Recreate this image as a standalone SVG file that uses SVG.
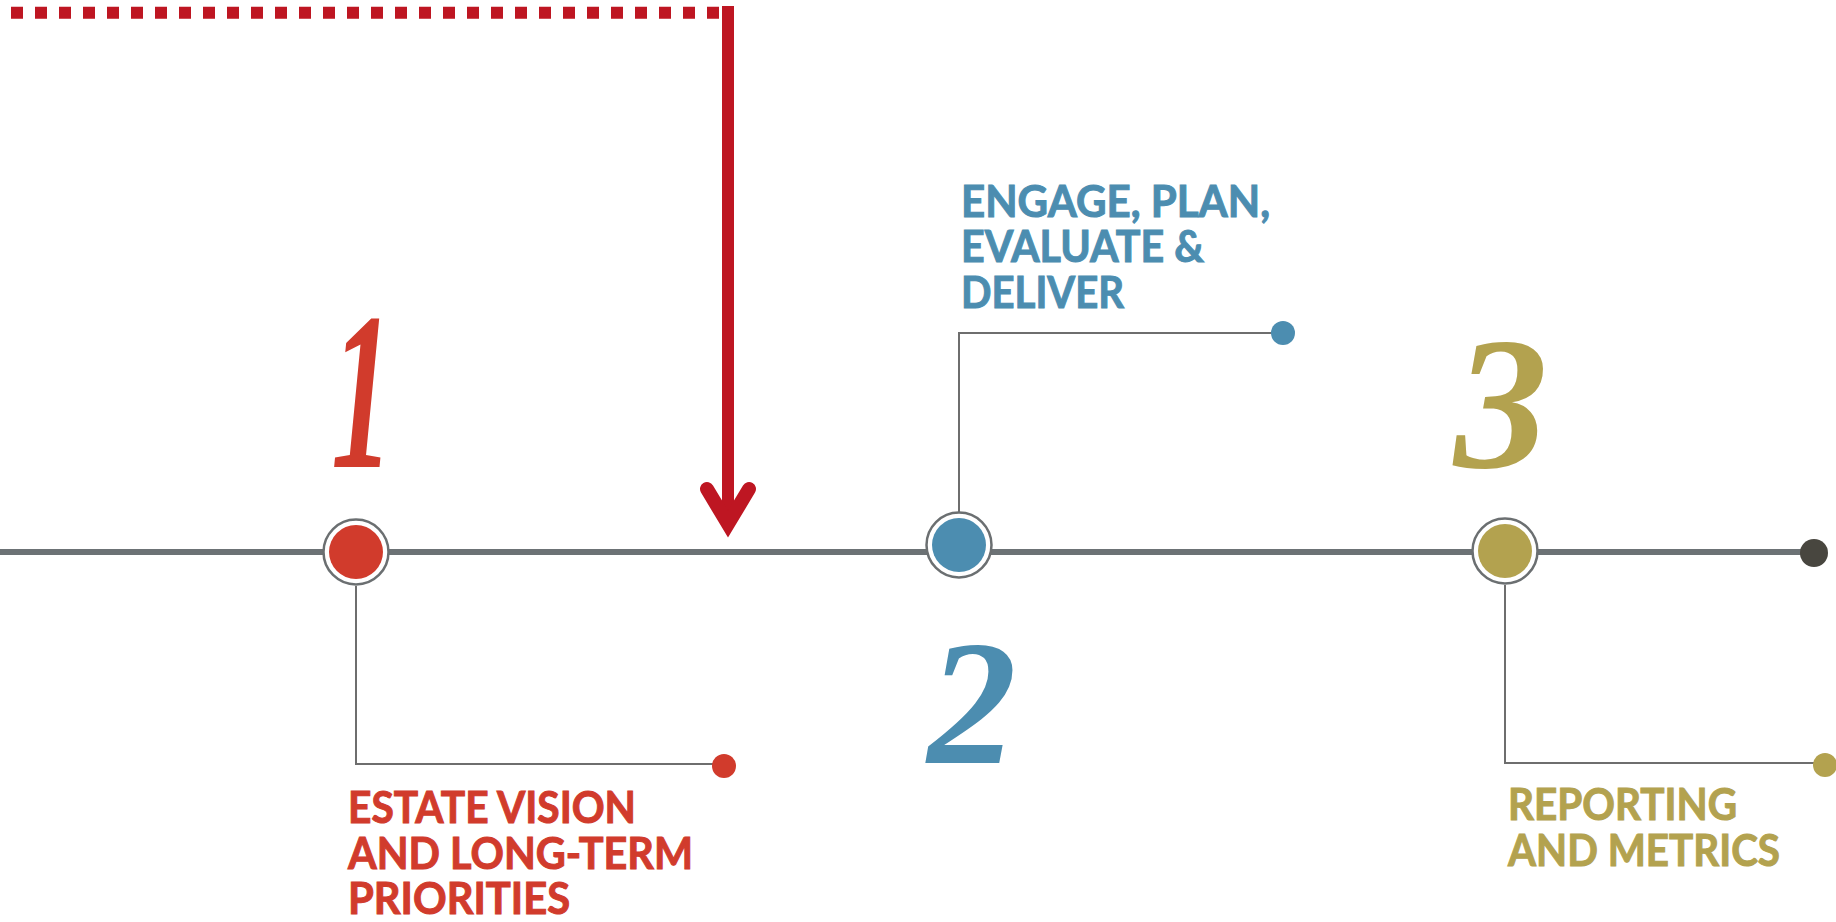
<svg xmlns="http://www.w3.org/2000/svg" width="1836" height="922" viewBox="0 0 1836 922">
<style>
.lbl{font-family:Lato,"Open Sans","Liberation Sans",sans-serif;font-weight:700;font-size:43px;stroke-width:1;}
.num{font-family:"Liberation Serif","DejaVu Serif",serif;font-weight:700;font-style:italic;text-anchor:middle;}
.conn{fill:none;stroke:#6e6e6e;stroke-width:2;}
.ring{fill:#ffffff;stroke:#6b6f71;stroke-width:2.5;}
.red{fill:#d13b2c;}
.blue{fill:#4c8db0;}
.olive{fill:#b3a24f;}
.lbl.red{stroke:#d13b2c;}
.lbl.blue{stroke:#4c8db0;}
.lbl.olive{stroke:#b3a24f;}
</style>
<rect width="1836" height="922" fill="#ffffff"/>
<g id="connectors">
  <line id="timeline" x1="0" y1="552" x2="1814" y2="552" stroke="#6c7275" stroke-width="6"/>
  <line x1="11" y1="12.7" x2="719" y2="12.7" stroke="#be1622" stroke-width="12" stroke-dasharray="12 12"/>
  <line x1="728" y1="6" x2="728" y2="524" stroke="#be1622" stroke-width="12"/>
  <polyline points="707,489 728,524 749,489" fill="none" stroke="#be1622" stroke-width="14" stroke-linecap="round" stroke-linejoin="miter" stroke-miterlimit="10"/>
  <polyline class="conn" points="356,586 356,764 724,764"/>
  <polyline class="conn" points="959,512 959,333 1283,333"/>
  <polyline class="conn" points="1505,585 1505,763 1825,763"/>
</g>
<g id="node1">
  <circle class="ring" cx="356" cy="552" r="32.5"/>
  <circle class="red" cx="356" cy="552" r="27"/>
  <circle class="red" cx="724" cy="766" r="12"/>
  <text class="num red" transform="translate(362,467) scale(0.55,1)" font-size="224">1</text>
  <text class="lbl red" x="348" y="823" textLength="288" lengthAdjust="spacingAndGlyphs">ESTATE VISION</text>
  <text class="lbl red" x="348" y="869" textLength="345" lengthAdjust="spacingAndGlyphs">AND LONG-TERM</text>
  <text class="lbl red" x="348" y="914" textLength="222" lengthAdjust="spacingAndGlyphs">PRIORITIES</text>
</g>
<g id="node2">
  <circle class="ring" cx="959" cy="545" r="32.5"/>
  <circle class="blue" cx="959" cy="545" r="27"/>
  <circle class="blue" cx="1283" cy="333" r="12"/>
  <text class="num blue" x="972" y="763" font-size="178">2</text>
  <text class="lbl blue" x="961" y="217" textLength="309" lengthAdjust="spacingAndGlyphs">ENGAGE, PLAN,</text>
  <text class="lbl blue" x="961" y="262" textLength="243" lengthAdjust="spacingAndGlyphs">EVALUATE &amp;</text>
  <text class="lbl blue" x="961" y="308" textLength="163" lengthAdjust="spacingAndGlyphs">DELIVER</text>
</g>
<g id="node3">
  <circle class="ring" cx="1505" cy="551" r="32.5"/>
  <circle class="olive" cx="1505" cy="551" r="27"/>
  <circle class="olive" cx="1825" cy="765" r="12"/>
  <text class="num olive" x="1501" y="467" font-size="188">3</text>
  <text class="lbl olive" x="1508" y="820" textLength="229" lengthAdjust="spacingAndGlyphs">REPORTING</text>
  <text class="lbl olive" x="1508" y="866" textLength="272" lengthAdjust="spacingAndGlyphs">AND METRICS</text>
</g>
<g id="end">
  <circle cx="1814" cy="553" r="14" fill="#48463f"/>
</g>
</svg>
